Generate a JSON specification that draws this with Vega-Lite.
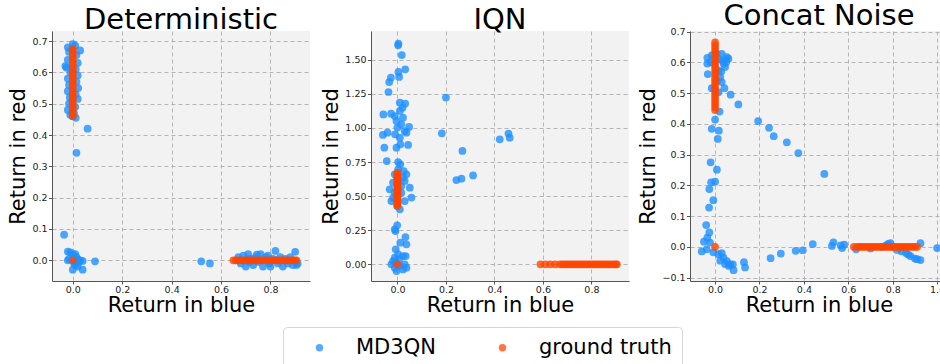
{
"$schema": "https://vega.github.io/schema/vega-lite/v6.json",
"padding": {"left": 7, "top": 1, "right": 0, "bottom": 0},
"background": "white",
"datasets": {
"det": [
{"series":"MD3QN","x":-0.03,"y":0.62},{"series":"MD3QN","x":-0.02,"y":0.68},{"series":"MD3QN","x":0.0,"y":0.69},{"series":"MD3QN","x":0.01,"y":0.685},{"series":"MD3QN","x":0.03,"y":0.67},{"series":"MD3QN","x":-0.015,"y":0.665},{"series":"MD3QN","x":0.015,"y":0.655},{"series":"MD3QN","x":-0.02,"y":0.64},{"series":"MD3QN","x":0.02,"y":0.63},{"series":"MD3QN","x":-0.025,"y":0.615},{"series":"MD3QN","x":0.012,"y":0.61},{"series":"MD3QN","x":-0.01,"y":0.6},{"series":"MD3QN","x":0.02,"y":0.59},{"series":"MD3QN","x":-0.02,"y":0.58},{"series":"MD3QN","x":0.015,"y":0.57},{"series":"MD3QN","x":-0.015,"y":0.56},{"series":"MD3QN","x":0.022,"y":0.55},{"series":"MD3QN","x":-0.02,"y":0.54},{"series":"MD3QN","x":0.012,"y":0.53},{"series":"MD3QN","x":-0.012,"y":0.52},{"series":"MD3QN","x":0.02,"y":0.515},{"series":"MD3QN","x":-0.015,"y":0.5},{"series":"MD3QN","x":0.01,"y":0.49},{"series":"MD3QN","x":-0.02,"y":0.48},{"series":"MD3QN","x":0.005,"y":0.47},{"series":"MD3QN","x":-0.01,"y":0.465},{"series":"MD3QN","x":0.012,"y":0.455},{"series":"MD3QN","x":0.0,"y":0.46},{"series":"MD3QN","x":0.06,"y":0.42},{"series":"MD3QN","x":0.015,"y":0.343},
{"series":"MD3QN","x":-0.035,"y":0.082},{"series":"MD3QN","x":-0.02,"y":0.028},{"series":"MD3QN","x":-0.01,"y":0.025},{"series":"MD3QN","x":0.0,"y":0.02},{"series":"MD3QN","x":0.01,"y":0.02},{"series":"MD3QN","x":0.015,"y":0.01},{"series":"MD3QN","x":-0.015,"y":0.005},{"series":"MD3QN","x":0.02,"y":0.003},{"series":"MD3QN","x":0.03,"y":0.0},{"series":"MD3QN","x":0.04,"y":-0.002},{"series":"MD3QN","x":0.005,"y":-0.01},{"series":"MD3QN","x":0.01,"y":-0.015},{"series":"MD3QN","x":0.02,"y":-0.02},{"series":"MD3QN","x":0.0,"y":-0.03},{"series":"MD3QN","x":0.04,"y":-0.03},{"series":"MD3QN","x":0.09,"y":-0.003},{"series":"MD3QN","x":-0.02,"y":0.0},{"series":"MD3QN","x":0.025,"y":-0.005},
{"series":"MD3QN","x":0.52,"y":-0.003},{"series":"MD3QN","x":0.555,"y":-0.01},
{"series":"MD3QN","x":0.67,"y":0.01},{"series":"MD3QN","x":0.68,"y":-0.01},{"series":"MD3QN","x":0.69,"y":0.015},{"series":"MD3QN","x":0.7,"y":-0.02},{"series":"MD3QN","x":0.71,"y":0.02},{"series":"MD3QN","x":0.72,"y":0.005},{"series":"MD3QN","x":0.73,"y":-0.015},{"series":"MD3QN","x":0.74,"y":0.01},{"series":"MD3QN","x":0.75,"y":-0.005},{"series":"MD3QN","x":0.76,"y":0.02},{"series":"MD3QN","x":0.77,"y":-0.02},{"series":"MD3QN","x":0.78,"y":0.01},{"series":"MD3QN","x":0.79,"y":0.015},{"series":"MD3QN","x":0.8,"y":-0.02},{"series":"MD3QN","x":0.81,"y":0.005},{"series":"MD3QN","x":0.82,"y":0.03},{"series":"MD3QN","x":0.83,"y":-0.01},{"series":"MD3QN","x":0.84,"y":0.01},{"series":"MD3QN","x":0.85,"y":-0.02},{"series":"MD3QN","x":0.86,"y":0.005},{"series":"MD3QN","x":0.87,"y":-0.01},{"series":"MD3QN","x":0.88,"y":0.01},{"series":"MD3QN","x":0.89,"y":-0.015},{"series":"MD3QN","x":0.9,"y":0.027},{"series":"MD3QN","x":0.91,"y":-0.01},{"series":"MD3QN","x":0.905,"y":-0.015},{"series":"MD3QN","x":0.715,"y":-0.005},{"series":"MD3QN","x":0.795,"y":-0.01},{"series":"MD3QN","x":0.825,"y":0.0},{"series":"MD3QN","x":0.745,"y":0.018},{"series":"MD3QN","x":0.705,"y":0.005},
{"series":"ground truth","x":0,"y":0.46},{"series":"ground truth","x":0,"y":0.47},{"series":"ground truth","x":0,"y":0.48},{"series":"ground truth","x":0,"y":0.49},{"series":"ground truth","x":0,"y":0.5},{"series":"ground truth","x":0,"y":0.51},{"series":"ground truth","x":0,"y":0.52},{"series":"ground truth","x":0,"y":0.53},{"series":"ground truth","x":0,"y":0.54},{"series":"ground truth","x":0,"y":0.55},{"series":"ground truth","x":0,"y":0.56},{"series":"ground truth","x":0,"y":0.57},{"series":"ground truth","x":0,"y":0.58},{"series":"ground truth","x":0,"y":0.59},{"series":"ground truth","x":0,"y":0.6},{"series":"ground truth","x":0,"y":0.61},{"series":"ground truth","x":0,"y":0.62},{"series":"ground truth","x":0,"y":0.63},{"series":"ground truth","x":0,"y":0.64},{"series":"ground truth","x":0,"y":0.65},{"series":"ground truth","x":0,"y":0.66},{"series":"ground truth","x":0,"y":0.67},{"series":"ground truth","x":0,"y":0.675},
{"series":"ground truth","x":0,"y":0},
{"series":"ground truth","x":0.65,"y":0},{"series":"ground truth","x":0.66,"y":0},{"series":"ground truth","x":0.67,"y":0},{"series":"ground truth","x":0.68,"y":0},{"series":"ground truth","x":0.69,"y":0},{"series":"ground truth","x":0.7,"y":0},{"series":"ground truth","x":0.71,"y":0},{"series":"ground truth","x":0.72,"y":0},{"series":"ground truth","x":0.73,"y":0},{"series":"ground truth","x":0.74,"y":0},{"series":"ground truth","x":0.75,"y":0},{"series":"ground truth","x":0.76,"y":0},{"series":"ground truth","x":0.77,"y":0},{"series":"ground truth","x":0.78,"y":0},{"series":"ground truth","x":0.79,"y":0},{"series":"ground truth","x":0.8,"y":0},{"series":"ground truth","x":0.81,"y":0},{"series":"ground truth","x":0.82,"y":0},{"series":"ground truth","x":0.83,"y":0},{"series":"ground truth","x":0.84,"y":0},{"series":"ground truth","x":0.85,"y":0},{"series":"ground truth","x":0.86,"y":0},{"series":"ground truth","x":0.87,"y":0},{"series":"ground truth","x":0.88,"y":0},{"series":"ground truth","x":0.89,"y":0},{"series":"ground truth","x":0.9,"y":0},{"series":"ground truth","x":0.905,"y":0}
],
"iqn": [
{"series":"MD3QN","x":0.004,"y":1.617},{"series":"MD3QN","x":0.003,"y":1.605},{"series":"MD3QN","x":0.018,"y":1.534},{"series":"MD3QN","x":0.032,"y":1.429},{"series":"MD3QN","x":0.004,"y":1.41},{"series":"MD3QN","x":0.007,"y":1.373},{"series":"MD3QN","x":-0.027,"y":1.368},{"series":"MD3QN","x":-0.034,"y":1.336},{"series":"MD3QN","x":-0.037,"y":1.263},{"series":"MD3QN","x":-0.058,"y":1.099},{"series":"MD3QN","x":-0.026,"y":1.104},{"series":"MD3QN","x":0.01,"y":1.185},{"series":"MD3QN","x":0.032,"y":1.178},{"series":"MD3QN","x":0.021,"y":1.148},{"series":"MD3QN","x":-0.011,"y":1.087},{"series":"MD3QN","x":0.01,"y":1.124},{"series":"MD3QN","x":0.023,"y":1.075},{"series":"MD3QN","x":-0.004,"y":1.051},{"series":"MD3QN","x":0.016,"y":1.026},{"series":"MD3QN","x":-0.06,"y":0.948},{"series":"MD3QN","x":-0.041,"y":0.965},{"series":"MD3QN","x":-0.054,"y":0.855},{"series":"MD3QN","x":-0.044,"y":0.757},{"series":"MD3QN","x":0.0,"y":1.002},{"series":"MD3QN","x":-0.01,"y":0.953},{"series":"MD3QN","x":0.01,"y":0.928},{"series":"MD3QN","x":0.03,"y":0.977},{"series":"MD3QN","x":0.048,"y":1.007},{"series":"MD3QN","x":0.037,"y":0.965},{"series":"MD3QN","x":0.044,"y":0.875},{"series":"MD3QN","x":-0.004,"y":0.855},{"series":"MD3QN","x":0.012,"y":0.88},{"series":"MD3QN","x":0.003,"y":0.75},{"series":"MD3QN","x":0.012,"y":0.733},
{"series":"MD3QN","x":0.2,"y":1.222},{"series":"MD3QN","x":0.183,"y":0.96},{"series":"MD3QN","x":0.268,"y":0.831},{"series":"MD3QN","x":0.243,"y":0.618},{"series":"MD3QN","x":0.264,"y":0.628},{"series":"MD3QN","x":0.312,"y":0.652},{"series":"MD3QN","x":0.422,"y":0.916},{"series":"MD3QN","x":0.458,"y":0.958},{"series":"MD3QN","x":0.463,"y":0.928},
{"series":"MD3QN","x":-0.032,"y":0.55},{"series":"MD3QN","x":-0.025,"y":0.464},{"series":"MD3QN","x":-0.018,"y":0.599},{"series":"MD3QN","x":-0.011,"y":0.525},{"series":"MD3QN","x":0.016,"y":0.574},{"series":"MD3QN","x":0.03,"y":0.611},{"series":"MD3QN","x":0.051,"y":0.562},{"series":"MD3QN","x":0.058,"y":0.489},{"series":"MD3QN","x":0.03,"y":0.464},{"series":"MD3QN","x":0.01,"y":0.403},{"series":"MD3QN","x":-0.001,"y":0.428},{"series":"MD3QN","x":0.023,"y":0.635},{"series":"MD3QN","x":-0.011,"y":0.66},{"series":"MD3QN","x":0.037,"y":0.66},{"series":"MD3QN","x":0.026,"y":0.684},{"series":"MD3QN","x":0.003,"y":0.696},{"series":"MD3QN","x":0.016,"y":0.525},{"series":"MD3QN","x":-0.018,"y":0.489},
{"series":"MD3QN","x":-0.001,"y":0.286},{"series":"MD3QN","x":-0.008,"y":0.244},{"series":"MD3QN","x":-0.011,"y":0.257},{"series":"MD3QN","x":0.033,"y":0.2},{"series":"MD3QN","x":0.037,"y":0.147},{"series":"MD3QN","x":0.012,"y":0.159},{"series":"MD3QN","x":-0.007,"y":0.11},{"series":"MD3QN","x":0.003,"y":0.073},{"series":"MD3QN","x":-0.011,"y":0.049},{"series":"MD3QN","x":0.023,"y":0.061},{"series":"MD3QN","x":0.034,"y":0.061},
{"series":"MD3QN","x":-0.025,"y":0.0},{"series":"MD3QN","x":-0.011,"y":-0.024},{"series":"MD3QN","x":0.01,"y":-0.012},{"series":"MD3QN","x":0.03,"y":0.0},{"series":"MD3QN","x":0.023,"y":-0.037},{"series":"MD3QN","x":-0.004,"y":-0.049},{"series":"MD3QN","x":-0.018,"y":0.024},{"series":"MD3QN","x":0.037,"y":-0.024},{"series":"MD3QN","x":0.007,"y":0.037},{"series":"MD3QN","x":-0.007,"y":0.012},
{"series":"ground truth","x":0,"y":0.43},{"series":"ground truth","x":0,"y":0.44},{"series":"ground truth","x":0,"y":0.45},{"series":"ground truth","x":0,"y":0.46},{"series":"ground truth","x":0,"y":0.47},{"series":"ground truth","x":0,"y":0.48},{"series":"ground truth","x":0,"y":0.49},{"series":"ground truth","x":0,"y":0.5},{"series":"ground truth","x":0,"y":0.51},{"series":"ground truth","x":0,"y":0.52},{"series":"ground truth","x":0,"y":0.53},{"series":"ground truth","x":0,"y":0.54},{"series":"ground truth","x":0,"y":0.55},{"series":"ground truth","x":0,"y":0.56},{"series":"ground truth","x":0,"y":0.57},{"series":"ground truth","x":0,"y":0.58},{"series":"ground truth","x":0,"y":0.59},{"series":"ground truth","x":0,"y":0.6},{"series":"ground truth","x":0,"y":0.61},{"series":"ground truth","x":0,"y":0.62},{"series":"ground truth","x":0,"y":0.63},{"series":"ground truth","x":0,"y":0.64},{"series":"ground truth","x":0,"y":0.65},{"series":"ground truth","x":0,"y":0.66},{"series":"ground truth","x":0,"y":0.67},
{"series":"ground truth","x":0,"y":0},
{"series":"ground truth","x":0.59,"y":0},{"series":"ground truth","x":0.61,"y":0},{"series":"ground truth","x":0.63,"y":0},{"series":"ground truth","x":0.65,"y":0},{"series":"ground truth","x":0.67,"y":0},{"series":"ground truth","x":0.68,"y":0},{"series":"ground truth","x":0.69,"y":0},{"series":"ground truth","x":0.7,"y":0},{"series":"ground truth","x":0.71,"y":0},{"series":"ground truth","x":0.72,"y":0},{"series":"ground truth","x":0.73,"y":0},{"series":"ground truth","x":0.74,"y":0},{"series":"ground truth","x":0.75,"y":0},{"series":"ground truth","x":0.76,"y":0},{"series":"ground truth","x":0.77,"y":0},{"series":"ground truth","x":0.78,"y":0},{"series":"ground truth","x":0.79,"y":0},{"series":"ground truth","x":0.8,"y":0},{"series":"ground truth","x":0.81,"y":0},{"series":"ground truth","x":0.82,"y":0},{"series":"ground truth","x":0.83,"y":0},{"series":"ground truth","x":0.84,"y":0},{"series":"ground truth","x":0.85,"y":0},{"series":"ground truth","x":0.86,"y":0},{"series":"ground truth","x":0.87,"y":0},{"series":"ground truth","x":0.88,"y":0},{"series":"ground truth","x":0.89,"y":0},{"series":"ground truth","x":0.9,"y":0},{"series":"ground truth","x":0.905,"y":0}
],
"cat": [
{"series":"MD3QN","x":-0.035,"y":0.615},{"series":"MD3QN","x":-0.035,"y":0.596},{"series":"MD3QN","x":-0.033,"y":0.562},{"series":"MD3QN","x":-0.015,"y":0.623},{"series":"MD3QN","x":0.008,"y":0.628},{"series":"MD3QN","x":0.03,"y":0.628},{"series":"MD3QN","x":0.053,"y":0.617},{"series":"MD3QN","x":0.06,"y":0.612},{"series":"MD3QN","x":0.038,"y":0.596},{"series":"MD3QN","x":0.015,"y":0.574},{"series":"MD3QN","x":0.045,"y":0.585},{"series":"MD3QN","x":0.023,"y":0.552},{"series":"MD3QN","x":0.035,"y":0.605},{"series":"MD3QN","x":0.02,"y":0.61},{"series":"MD3QN","x":0.05,"y":0.6},{"series":"MD3QN","x":0.028,"y":0.57},{"series":"MD3QN","x":-0.02,"y":0.6},{"series":"MD3QN","x":0.01,"y":0.54},{"series":"MD3QN","x":-0.015,"y":0.516},{"series":"MD3QN","x":0.042,"y":0.516},{"series":"MD3QN","x":0.03,"y":0.536},{"series":"MD3QN","x":0.015,"y":0.503},{"series":"MD3QN","x":0.07,"y":0.495},{"series":"MD3QN","x":0.105,"y":0.463},{"series":"MD3QN","x":0.02,"y":0.44},{"series":"MD3QN","x":0.0,"y":0.414},{"series":"MD3QN","x":-0.015,"y":0.384},{"series":"MD3QN","x":0.017,"y":0.378},{"series":"MD3QN","x":0.012,"y":0.351},
{"series":"MD3QN","x":0.194,"y":0.409},{"series":"MD3QN","x":0.243,"y":0.387},{"series":"MD3QN","x":0.264,"y":0.36},{"series":"MD3QN","x":0.323,"y":0.34},{"series":"MD3QN","x":0.375,"y":0.305},{"series":"MD3QN","x":0.492,"y":0.237},
{"series":"MD3QN","x":-0.02,"y":0.275},{"series":"MD3QN","x":0.008,"y":0.251},{"series":"MD3QN","x":-0.018,"y":0.21},{"series":"MD3QN","x":0.0,"y":0.212},{"series":"MD3QN","x":-0.026,"y":0.188},{"series":"MD3QN","x":-0.008,"y":0.152},{"series":"MD3QN","x":-0.027,"y":0.128},{"series":"MD3QN","x":-0.04,"y":0.071},{"series":"MD3QN","x":-0.026,"y":0.047},{"series":"MD3QN","x":-0.035,"y":0.03},{"series":"MD3QN","x":-0.05,"y":0.017},{"series":"MD3QN","x":-0.023,"y":0.014},{"series":"MD3QN","x":-0.06,"y":-0.015},{"series":"MD3QN","x":-0.038,"y":-0.008},{"series":"MD3QN","x":-0.008,"y":-0.018},
{"series":"MD3QN","x":0.015,"y":-0.024},{"series":"MD3QN","x":0.038,"y":-0.035},{"series":"MD3QN","x":0.053,"y":-0.046},{"series":"MD3QN","x":0.068,"y":-0.057},{"series":"MD3QN","x":0.083,"y":-0.076},{"series":"MD3QN","x":0.062,"y":-0.062},{"series":"MD3QN","x":0.08,"y":-0.057},{"series":"MD3QN","x":0.13,"y":-0.05},{"series":"MD3QN","x":0.135,"y":-0.067},{"series":"MD3QN","x":0.023,"y":-0.045},{"series":"MD3QN","x":0.045,"y":-0.056},{"series":"MD3QN","x":0.03,"y":-0.02},
{"series":"MD3QN","x":0.25,"y":-0.037},{"series":"MD3QN","x":0.296,"y":-0.022},{"series":"MD3QN","x":0.363,"y":-0.013},{"series":"MD3QN","x":0.395,"y":-0.011},{"series":"MD3QN","x":0.44,"y":0.009},{"series":"MD3QN","x":0.526,"y":0.003},{"series":"MD3QN","x":0.533,"y":0.015},{"series":"MD3QN","x":0.566,"y":0.005},{"series":"MD3QN","x":0.572,"y":-0.004},{"series":"MD3QN","x":0.582,"y":0.007},{"series":"MD3QN","x":0.635,"y":-0.008},{"series":"MD3QN","x":1.0,"y":-0.004},
{"series":"MD3QN","x":0.7,"y":-0.005},{"series":"MD3QN","x":0.75,"y":0.0},{"series":"MD3QN","x":0.77,"y":0.005},{"series":"MD3QN","x":0.78,"y":0.01},{"series":"MD3QN","x":0.79,"y":0.012},{"series":"MD3QN","x":0.8,"y":0.0},{"series":"MD3QN","x":0.82,"y":-0.01},{"series":"MD3QN","x":0.84,"y":-0.015},{"series":"MD3QN","x":0.86,"y":-0.02},{"series":"MD3QN","x":0.87,"y":-0.025},{"series":"MD3QN","x":0.88,"y":-0.03},{"series":"MD3QN","x":0.9,"y":-0.038},{"series":"MD3QN","x":0.91,"y":-0.04},{"series":"MD3QN","x":0.925,"y":-0.043},{"series":"MD3QN","x":0.925,"y":0.012},
{"series":"ground truth","x":0,"y":0.445},{"series":"ground truth","x":0,"y":0.455},{"series":"ground truth","x":0,"y":0.465},{"series":"ground truth","x":0,"y":0.475},{"series":"ground truth","x":0,"y":0.485},{"series":"ground truth","x":0,"y":0.495},{"series":"ground truth","x":0,"y":0.505},{"series":"ground truth","x":0,"y":0.515},{"series":"ground truth","x":0,"y":0.525},{"series":"ground truth","x":0,"y":0.535},{"series":"ground truth","x":0,"y":0.545},{"series":"ground truth","x":0,"y":0.555},{"series":"ground truth","x":0,"y":0.565},{"series":"ground truth","x":0,"y":0.575},{"series":"ground truth","x":0,"y":0.585},{"series":"ground truth","x":0,"y":0.595},{"series":"ground truth","x":0,"y":0.605},{"series":"ground truth","x":0,"y":0.615},{"series":"ground truth","x":0,"y":0.625},{"series":"ground truth","x":0,"y":0.635},{"series":"ground truth","x":0,"y":0.645},{"series":"ground truth","x":0,"y":0.655},{"series":"ground truth","x":0,"y":0.665},
{"series":"ground truth","x":0,"y":0},
{"series":"ground truth","x":0.625,"y":0},{"series":"ground truth","x":0.64,"y":0},{"series":"ground truth","x":0.65,"y":0},{"series":"ground truth","x":0.66,"y":0},{"series":"ground truth","x":0.67,"y":0},{"series":"ground truth","x":0.68,"y":0},{"series":"ground truth","x":0.69,"y":0},{"series":"ground truth","x":0.7,"y":0},{"series":"ground truth","x":0.71,"y":0},{"series":"ground truth","x":0.72,"y":0},{"series":"ground truth","x":0.73,"y":0},{"series":"ground truth","x":0.74,"y":0},{"series":"ground truth","x":0.75,"y":0},{"series":"ground truth","x":0.76,"y":0},{"series":"ground truth","x":0.77,"y":0},{"series":"ground truth","x":0.78,"y":0},{"series":"ground truth","x":0.79,"y":0},{"series":"ground truth","x":0.8,"y":0},{"series":"ground truth","x":0.81,"y":0},{"series":"ground truth","x":0.82,"y":0},{"series":"ground truth","x":0.83,"y":0},{"series":"ground truth","x":0.84,"y":0},{"series":"ground truth","x":0.85,"y":0},{"series":"ground truth","x":0.86,"y":0},{"series":"ground truth","x":0.87,"y":0},{"series":"ground truth","x":0.88,"y":0},{"series":"ground truth","x":0.89,"y":0},{"series":"ground truth","x":0.9,"y":0},{"series":"ground truth","x":0.91,"y":0}
]
},
"spacing": 61,
"bounds": "flush",
"hconcat": [
{
"title": "Deterministic",
"width": 258, "height": 250,
"data": {"name": "det"},
"mark": {"type": "circle", "size": 60, "opacity": 0.8, "clip": true},
"encoding": {
"x": {"field": "x", "type": "quantitative", "scale": {"domain": [-0.084, 0.96], "nice": false, "zero": false}, "axis": {"values": [0, 0.2, 0.4, 0.6, 0.8], "format": ".1f", "title": "Return in blue"}},
"y": {"field": "y", "type": "quantitative", "scale": {"domain": [-0.066, 0.732], "nice": false, "zero": false}, "axis": {"values": [0, 0.1, 0.2, 0.3, 0.4, 0.5, 0.6, 0.7], "format": ".1f", "title": "Return in red"}},
"color": {"field": "series", "type": "nominal", "scale": {"domain": ["MD3QN", "ground truth"], "range": ["#1E90FF", "#FF4500"]}, "legend": {"title": null}}
}
},
{
"title": "IQN",
"width": 258, "height": 250,
"data": {"name": "iqn"},
"mark": {"type": "circle", "size": 60, "opacity": 0.8, "clip": true},
"encoding": {
"x": {"field": "x", "type": "quantitative", "scale": {"domain": [-0.109, 0.955], "nice": false, "zero": false}, "axis": {"values": [0, 0.2, 0.4, 0.6, 0.8], "format": ".1f", "title": "Return in blue"}},
"y": {"field": "y", "type": "quantitative", "scale": {"domain": [-0.122, 1.71], "nice": false, "zero": false}, "axis": {"values": [0, 0.25, 0.5, 0.75, 1.0, 1.25, 1.5], "format": ".2f", "title": "Return in red"}},
"color": {"field": "series", "type": "nominal", "scale": {"domain": ["MD3QN", "ground truth"], "range": ["#1E90FF", "#FF4500"]}, "legend": {"title": null}}
}
},
{
"title": "Concat Noise",
"width": 258, "height": 250,
"data": {"name": "cat"},
"mark": {"type": "circle", "size": 60, "opacity": 0.8, "clip": true},
"encoding": {
"x": {"field": "x", "type": "quantitative", "scale": {"domain": [-0.113, 1.049], "nice": false, "zero": false}, "axis": {"values": [0, 0.2, 0.4, 0.6, 0.8, 1.0], "format": ".1f", "title": "Return in blue"}},
"y": {"field": "y", "type": "quantitative", "scale": {"domain": [-0.111, 0.702], "nice": false, "zero": false}, "axis": {"values": [-0.1, 0, 0.1, 0.2, 0.3, 0.4, 0.5, 0.6, 0.7], "format": ".1f", "title": "Return in red"}},
"color": {"field": "series", "type": "nominal", "scale": {"domain": ["MD3QN", "ground truth"], "range": ["#1E90FF", "#FF4500"]}, "legend": {"title": null}}
}
}
],
"config": {
"font": "DejaVu Sans",
"view": {"fill": "#f2f2f2", "stroke": null},
"title": {"fontSize": 29, "font": "DejaVu Sans", "fontWeight": "normal", "color": "#000000", "offset": -4, "anchor": "middle"},
"axis": {
"labelFont": "DejaVu Sans", "labelFontSize": 9.5, "labelColor": "#222222", "labelPadding": 1.5,
"titleFont": "DejaVu Sans", "titleFontSize": 21, "titleFontWeight": "normal", "titleColor": "#000000",
"grid": true, "gridColor": "#b5b5b5", "gridDash": [4, 3], "gridWidth": 1,
"domainColor": "#555555", "domainWidth": 1, "tickColor": "#555555", "tickSize": 3.5, "tickWidth": 1
},
"axisX": {"titlePadding": 0.5, "labelPadding": 0, "tickSize": 3},
"axisY": {"titlePadding": 3},
"legend": {
"orient": "none", "legendX": 231, "legendY": 296, "direction": "horizontal", "gridAlign": "each",
"labelFont": "DejaVu Sans", "labelFontSize": 21, "labelColor": "#000000",
"symbolType": "circle", "symbolSize": 55, "symbolOpacity": 0.75, "symbolStrokeWidth": 0,
"labelOffset": 26, "columnPadding": 40, "padding": 10, "symbolOffset": 16,
"strokeColor": "#d6d6d6", "fillColor": "#ffffff", "cornerRadius": 4
}
}
}
